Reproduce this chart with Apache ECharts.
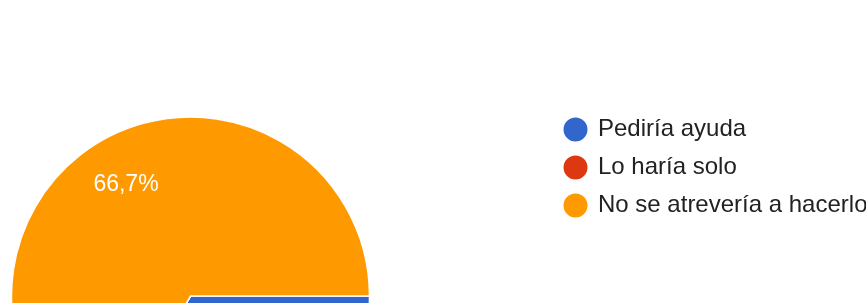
<!DOCTYPE html>
<html><head><meta charset="utf-8">
<script src="https://cdn.jsdelivr.net/npm/echarts@6/dist/echarts.min.js"></script>
<style>html,body{margin:0;padding:0;background:#fff}#c{width:866px;height:303px}</style>
</head><body><div id="c"></div>
<script>
const categories = ["Pediría ayuda", "Lo haría solo", "No se atrevería a hacerlo"];
const values = [1, 0, 2];
const colors = ["#3366cc", "#dc3912", "#ff9900"];

const data = categories.map((n, i) => ({ name: n, value: values[i] }));
const chart = echarts.init(document.getElementById('c'), null, { renderer: 'canvas' });
const total = values.reduce((a, b) => a + b, 0);
const FONT = '"Liberation Sans", Arial, sans-serif';
chart.setOption({
  animation: false,
  color: colors,
  legend: {
    orient: 'vertical', left: 561.5, top: 115.5, padding: 0,
    icon: 'circle', itemWidth: 26, itemHeight: 26, itemGap: 10,
    textStyle: { fontFamily: FONT, fontSize: 24, color: '#222', padding: [0, 0, 0, 4.5] },
    data: categories
  },
  series: [
    {
      type: 'pie', center: [190.5, 296], radius: 179, startAngle: 0, clockwise: true,
      silent: true, label: { show: false }, labelLine: { show: false },
      itemStyle: { borderColor: '#fff', borderWidth: 1.5 },
      data: data
    },
    {
      type: 'pie', center: [190.5, 296], radius: [73, 179], startAngle: 0, clockwise: true,
      silent: true, legendHoverLink: false,
      itemStyle: { color: 'rgba(0,0,0,0)' },
      label: {
        show: true, position: 'inside', color: '#fff', fontFamily: FONT, fontSize: 23,
        formatter: p => p.value > 0 ? (p.value / total * 100).toFixed(1).replace('.', ',') + '%' : ''
      },
      labelLine: { show: false },
      data: categories.map((n, i) => ({ name: n + ' ', value: values[i] }))
    }
  ]
});
</script></body></html>
